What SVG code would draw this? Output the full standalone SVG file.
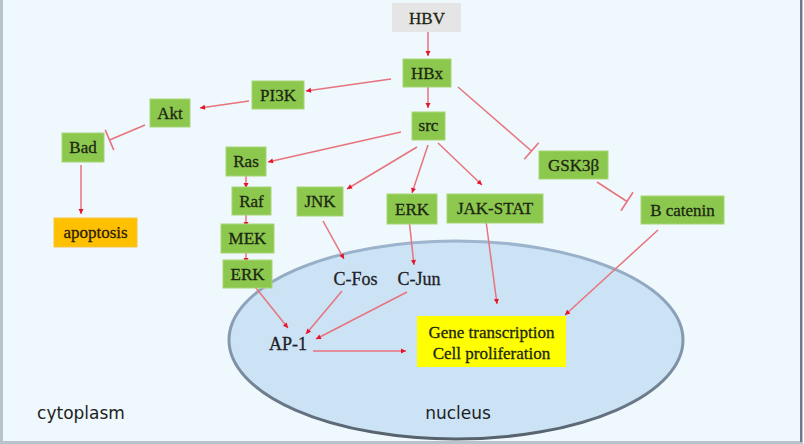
<svg xmlns="http://www.w3.org/2000/svg" width="804" height="444" viewBox="0 0 804 444">
  <defs>
    <linearGradient id="nucStroke" x1="0" y1="0" x2="0" y2="1">
      <stop offset="0" stop-color="#9DB5CE"/>
      <stop offset="0.6" stop-color="#7F93A8"/>
      <stop offset="1" stop-color="#56606C"/>
    </linearGradient>
    <marker id="arrow" markerUnits="userSpaceOnUse" markerWidth="8" markerHeight="8" refX="6" refY="4" orient="auto">
      <path d="M1,1.5 L6,4 L1,6.5 z" fill="#E5132B"/>
    </marker>
    <marker id="tbar" markerUnits="userSpaceOnUse" markerWidth="4" markerHeight="24" refX="2" refY="12" orient="auto">
      <path d="M2,1 L2,23" stroke="#E8737C" stroke-width="1.6"/>
    </marker>
  </defs>
  <style>
    .bg { fill: #EEF8FD; stroke: #B9C3CC; stroke-width: 3; }
    .green { fill: #8CC84E; stroke: #A7D676; stroke-width: 1; }
    .lbl { font-family: "Liberation Serif", "Times New Roman", serif; font-size: 17px; fill: #1C2613; stroke: #1C2613; stroke-width: 0.3; text-anchor: middle; dominant-baseline: central; }
    .free { font-family: "Liberation Serif", "Times New Roman", serif; font-size: 18px; fill: #1E2226; stroke: #1E2226; stroke-width: 0.3; text-anchor: middle; dominant-baseline: central; }
    .sans { font-family: "DejaVu Sans", "Noto Sans", sans-serif; font-size: 17px; fill: #1E1E1E; text-anchor: middle; dominant-baseline: central; }
    .act { fill: none; stroke: #E8737C; stroke-width: 1.5; marker-end: url(#arrow); }
    .inh { fill: none; stroke: #E8737C; stroke-width: 1.5; marker-end: url(#tbar); }
  </style>

  <rect class="bg" x="1.5" y="-2" width="800" height="444.5"/>
  <line x1="801" y1="0" x2="801" y2="442" stroke="#6E7985" stroke-width="2"/>

  <g id="nucleus">
    <ellipse cx="456" cy="340" rx="227" ry="99" fill="#CCE3F6" stroke="url(#nucStroke)" stroke-width="3"/>
    <text class="sans" x="458" y="413">nucleus</text>
  </g>
  <g id="cytoplasm">
    <text class="sans" x="81" y="413">cytoplasm</text>
  </g>

  <g id="connectors">
    <line class="act" x1="428" y1="32" x2="428" y2="56"/>
    <line class="act" x1="428" y1="87" x2="428" y2="108"/>
    <line class="act" x1="391" y1="79" x2="306" y2="91"/>
    <line class="act" x1="249" y1="101" x2="200" y2="108"/>
    <line class="inh" x1="145" y1="125" x2="109.5" y2="140"/>
    <line class="act" x1="81" y1="165" x2="81" y2="214"/>
    <line class="act" x1="401" y1="132" x2="268" y2="162"/>
    <line class="act" x1="417" y1="147" x2="347" y2="189"/>
    <line class="act" x1="428" y1="145" x2="412" y2="193"/>
    <line class="act" x1="438" y1="143" x2="482" y2="185"/>
    <line class="inh" x1="458" y1="87" x2="531.5" y2="151"/>
    <line class="inh" x1="597" y1="182" x2="627" y2="201.5"/>
    <line class="act" x1="246" y1="176" x2="246" y2="188"/>
    <line class="act" x1="246" y1="215" x2="246" y2="227"/>
    <line class="act" x1="246" y1="253" x2="246" y2="263"/>
    <line class="act" x1="248" y1="278" x2="288" y2="328"/>
    <line class="act" x1="323" y1="221" x2="344" y2="259"/>
    <line class="act" x1="409" y1="219" x2="414" y2="265"/>
    <line class="act" x1="342" y1="291" x2="306" y2="334"/>
    <line class="act" x1="407" y1="292" x2="316" y2="339"/>
    <line class="act" x1="313" y1="351" x2="406" y2="351"/>
    <line class="act" x1="486" y1="221" x2="497" y2="304"/>
    <line class="act" x1="658" y1="230" x2="565" y2="315"/>
  </g>

  <g id="HBV">
    <rect x="392" y="3" width="69" height="29" fill="#E6E5E5"/>
    <text class="lbl" x="427" y="18">HBV</text>
  </g>
  <g id="HBx">
    <rect class="green" x="403" y="59" width="48" height="28"/>
    <text class="lbl" x="427" y="73">HBx</text>
  </g>
  <g id="src">
    <rect class="green" x="412" y="112" width="33" height="28"/>
    <text class="lbl" x="428.5" y="125">src</text>
  </g>
  <g id="PI3K">
    <rect class="green" x="252" y="81" width="52" height="28"/>
    <text class="lbl" x="278" y="95">PI3K</text>
  </g>
  <g id="Akt">
    <rect class="green" x="150" y="99" width="40" height="28"/>
    <text class="lbl" x="170" y="113">Akt</text>
  </g>
  <g id="Bad">
    <rect class="green" x="62" y="133" width="42" height="29"/>
    <text class="lbl" x="83" y="147.5">Bad</text>
  </g>
  <g id="apoptosis">
    <rect x="54" y="218" width="83" height="29" fill="#FFC000" stroke="#F5C542" stroke-width="1"/>
    <text class="lbl" x="95.5" y="232.5" style="fill:#2B2005;stroke:#2B2005">apoptosis</text>
  </g>
  <g id="Ras">
    <rect class="green" x="226" y="147" width="40" height="29"/>
    <text class="lbl" x="246" y="161.5">Ras</text>
  </g>
  <g id="Raf">
    <rect class="green" x="232" y="187" width="39" height="28"/>
    <text class="lbl" x="251.5" y="201">Raf</text>
  </g>
  <g id="MEK">
    <rect class="green" x="221" y="224" width="53" height="29"/>
    <text class="lbl" x="247.5" y="238.5">MEK</text>
  </g>
  <g id="ERK1">
    <rect class="green" x="223" y="260" width="49" height="28"/>
    <text class="lbl" x="247.5" y="274">ERK</text>
  </g>
  <g id="JNK">
    <rect class="green" x="297" y="187" width="46" height="29"/>
    <text class="lbl" x="320" y="201.5">JNK</text>
  </g>
  <g id="ERK2">
    <rect class="green" x="387" y="194" width="50" height="30"/>
    <text class="lbl" x="412" y="209">ERK</text>
  </g>
  <g id="JAK-STAT">
    <rect class="green" x="447" y="194" width="96" height="29"/>
    <text class="lbl" x="495" y="208.5">JAK-STAT</text>
  </g>
  <g id="GSK3b">
    <rect class="green" x="539" y="151" width="69" height="28"/>
    <text class="lbl" x="573.5" y="165">GSK3β</text>
  </g>
  <g id="Bcatenin">
    <rect class="green" x="641" y="196" width="83" height="28"/>
    <text class="lbl" x="682.5" y="210">B catenin</text>
  </g>
  <g id="CFos">
    <text class="free" x="355.5" y="279">C-Fos</text>
  </g>
  <g id="CJun">
    <text class="free" x="419" y="279">C-Jun</text>
  </g>
  <g id="AP1">
    <text class="free" x="288" y="344">AP-1</text>
  </g>
  <g id="Gene">
    <rect x="417" y="316" width="149" height="51" fill="#FFFF00"/>
    <text class="lbl" x="491.5" y="332" font-size="17.5">Gene transcription</text>
    <text class="lbl" x="491.5" y="353" font-size="17.5">Cell proliferation</text>
  </g>
</svg>
